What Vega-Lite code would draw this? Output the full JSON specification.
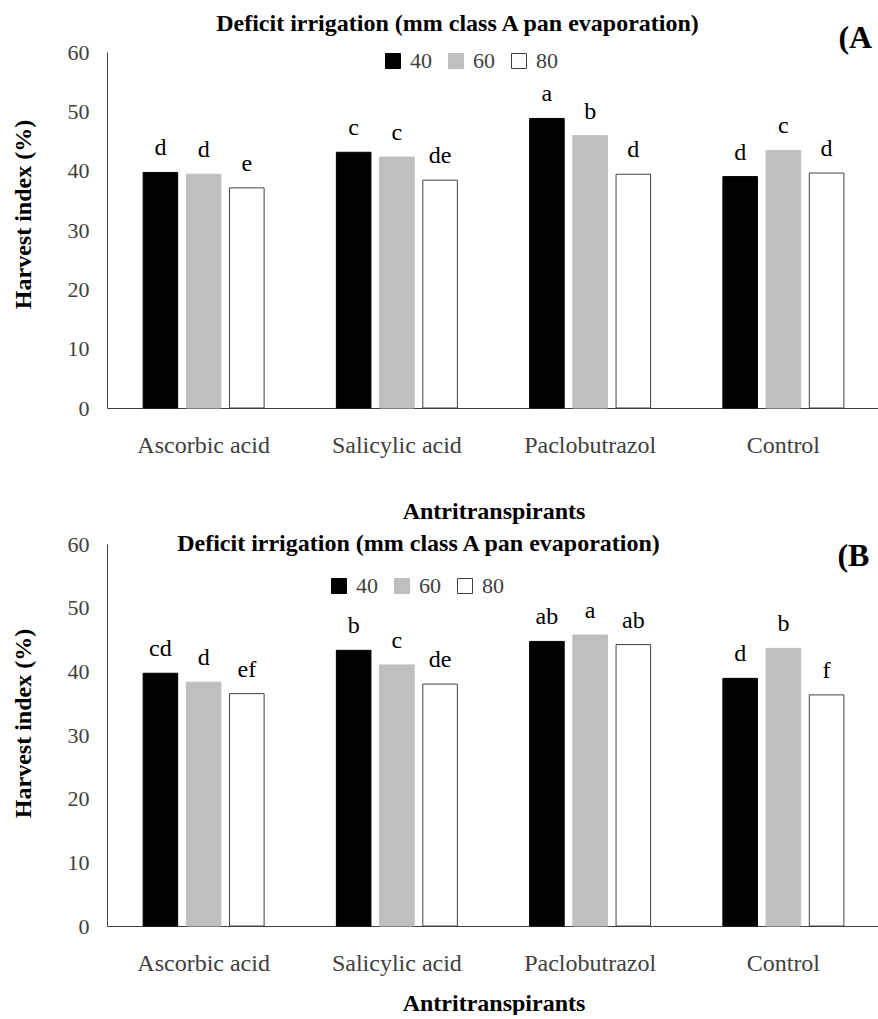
{
  "$schema": "https://vega.github.io/schema/vega-lite/v6.json",
  "padding": {"left": 11, "top": 12, "right": 0, "bottom": 0},
  "config": {
    "font": "Liberation Serif, Times New Roman, serif",
    "text": {"font": "Liberation Serif, Times New Roman, serif"},
    "title": {"font": "Liberation Serif, Times New Roman, serif"},
    "view": {"stroke": null},
    "axis": {"grid": false, "ticks": false, "domainColor": "#404040", "labelColor": "#404040", "labelFont": "Liberation Serif, Times New Roman, serif", "titleFont": "Liberation Serif, Times New Roman, serif", "titleFontWeight": "bold", "titleColor": "#000000"},
    "legend": {"labelFont": "Liberation Serif, Times New Roman, serif"}
  },
  "datasets": {
    "A": [
      {"treatment": "Ascorbic acid", "level": "40", "value": 39.7, "letter": "d"},
      {"treatment": "Ascorbic acid", "level": "60", "value": 39.4, "letter": "d"},
      {"treatment": "Ascorbic acid", "level": "80", "value": 37.1, "letter": "e"},
      {"treatment": "Salicylic acid", "level": "40", "value": 43.1, "letter": "c"},
      {"treatment": "Salicylic acid", "level": "60", "value": 42.3, "letter": "c"},
      {"treatment": "Salicylic acid", "level": "80", "value": 38.4, "letter": "de"},
      {"treatment": "Paclobutrazol", "level": "40", "value": 48.8, "letter": "a"},
      {"treatment": "Paclobutrazol", "level": "60", "value": 45.9, "letter": "b"},
      {"treatment": "Paclobutrazol", "level": "80", "value": 39.4, "letter": "d"},
      {"treatment": "Control", "level": "40", "value": 39.0, "letter": "d"},
      {"treatment": "Control", "level": "60", "value": 43.4, "letter": "c"},
      {"treatment": "Control", "level": "80", "value": 39.6, "letter": "d"}
    ],
    "B": [
      {"treatment": "Ascorbic acid", "level": "40", "value": 39.7, "letter": "cd"},
      {"treatment": "Ascorbic acid", "level": "60", "value": 38.3, "letter": "d"},
      {"treatment": "Ascorbic acid", "level": "80", "value": 36.5, "letter": "ef"},
      {"treatment": "Salicylic acid", "level": "40", "value": 43.3, "letter": "b"},
      {"treatment": "Salicylic acid", "level": "60", "value": 41.0, "letter": "c"},
      {"treatment": "Salicylic acid", "level": "80", "value": 38.0, "letter": "de"},
      {"treatment": "Paclobutrazol", "level": "40", "value": 44.7, "letter": "ab"},
      {"treatment": "Paclobutrazol", "level": "60", "value": 45.7, "letter": "a"},
      {"treatment": "Paclobutrazol", "level": "80", "value": 44.2, "letter": "ab"},
      {"treatment": "Control", "level": "40", "value": 38.9, "letter": "d"},
      {"treatment": "Control", "level": "60", "value": 43.6, "letter": "b"},
      {"treatment": "Control", "level": "80", "value": 36.3, "letter": "f"}
    ],
    "tagA": [{"tag": "(A"}],
    "tagB": [{"tag": "(B"}]
  },
  "resolve": {
    "scale": {"x": "independent", "y": "independent", "fill": "independent", "stroke": "independent", "xOffset": "independent"},
    "legend": {"fill": "independent", "stroke": "independent"}
  },
  "spacing": 9,
  "vconcat": [
    {
      "width": 773,
      "height": 356,
      "title": {"text": "Deficit irrigation (mm class A pan evaporation)", "fontSize": 24, "fontWeight": "bold", "color": "#000000", "anchor": "middle", "frame": "group", "dx": -36, "offset": -14},
      "layer": [
        {
          "data": {"name": "A"},
          "mark": {"type": "bar", "strokeWidth": 1},
          "encoding": {
            "x": {"field": "treatment", "type": "nominal", "sort": ["Ascorbic acid", "Salicylic acid", "Paclobutrazol", "Control"], "scale": {"paddingInner": 0.374, "paddingOuter": 0.187}, "axis": {"title": "Antritranspirants", "labelAngle": 0, "labelFontSize": 24, "labelPadding": 25, "titleFontSize": 24, "titlePadding": 42}},
            "y": {"field": "value", "type": "quantitative", "scale": {"domain": [0, 60]}, "axis": {"title": "Harvest index (%)", "values": [0, 10, 20, 30, 40, 50, 60], "labelFontSize": 22, "labelPadding": 18, "titleFontSize": 24, "titleX": -84, "titleY": 162, "titleBaseline": "middle", "titleAngle": -90, "titleAlign": "center"}},
            "xOffset": {"field": "level", "type": "nominal", "sort": ["40", "60", "80"], "scale": {"paddingInner": 0.2}},
            "fill": {"field": "level", "type": "nominal", "scale": {"domain": ["40", "60", "80"], "range": ["#000000", "#bfbfbf", "#ffffff"]}, "legend": {"orient": "none", "legendX": 275, "legendY": -2, "direction": "horizontal", "title": null, "symbolType": "square", "symbolSize": 225, "symbolStrokeWidth": 1, "labelFontSize": 22, "labelColor": "#404040", "labelOffset": 6, "columnPadding": 13}},
            "stroke": {"field": "level", "type": "nominal", "scale": {"domain": ["40", "60", "80"], "range": ["#000000", "#bfbfbf", "#404040"]}, "legend": {"orient": "none", "legendX": 275, "legendY": -2, "direction": "horizontal", "title": null, "symbolType": "square", "symbolSize": 225, "symbolStrokeWidth": 1, "labelFontSize": 22, "labelColor": "#404040", "labelOffset": 6, "columnPadding": 13}}
          }
        },
        {
          "data": {"name": "A"},
          "mark": {"type": "text", "baseline": "alphabetic", "dy": -17, "fontSize": 24, "color": "#000000"},
          "encoding": {
            "x": {"field": "treatment", "type": "nominal", "sort": ["Ascorbic acid", "Salicylic acid", "Paclobutrazol", "Control"]},
            "y": {"field": "value", "type": "quantitative"},
            "xOffset": {"field": "level", "type": "nominal", "sort": ["40", "60", "80"]},
            "text": {"field": "letter"}
          }
        },
        {
          "data": {"name": "tagA"},
          "mark": {"type": "text", "align": "left", "baseline": "middle", "dx": 55, "dy": -14, "fontSize": 32, "fontWeight": "bold", "color": "#000000"},
          "encoding": {
            "x": {"datum": "Control"},
            "y": {"datum": 60},
            "text": {"field": "tag"}
          }
        }
      ]
    },
    {
      "width": 773,
      "height": 382,
      "title": {"text": "Deficit irrigation (mm class A pan evaporation)", "fontSize": 24, "fontWeight": "bold", "color": "#000000", "anchor": "middle", "frame": "group", "dx": -75, "offset": -23},
      "layer": [
        {
          "data": {"name": "B"},
          "mark": {"type": "bar", "strokeWidth": 1},
          "encoding": {
            "x": {"field": "treatment", "type": "nominal", "sort": ["Ascorbic acid", "Salicylic acid", "Paclobutrazol", "Control"], "scale": {"paddingInner": 0.374, "paddingOuter": 0.187}, "axis": {"title": "Antritranspirants", "labelAngle": 0, "labelFontSize": 24, "labelPadding": 25, "titleFontSize": 24, "titlePadding": 16}},
            "y": {"field": "value", "type": "quantitative", "scale": {"domain": [0, 60]}, "axis": {"title": "Harvest index (%)", "values": [0, 10, 20, 30, 40, 50, 60], "labelFontSize": 22, "labelPadding": 18, "titleFontSize": 24, "titleX": -84, "titleY": 179, "titleBaseline": "middle", "titleAngle": -90, "titleAlign": "center"}},
            "xOffset": {"field": "level", "type": "nominal", "sort": ["40", "60", "80"], "scale": {"paddingInner": 0.2}},
            "fill": {"field": "level", "type": "nominal", "scale": {"domain": ["40", "60", "80"], "range": ["#000000", "#bfbfbf", "#ffffff"]}, "legend": {"orient": "none", "legendX": 221, "legendY": 31, "direction": "horizontal", "title": null, "symbolType": "square", "symbolSize": 225, "symbolStrokeWidth": 1, "labelFontSize": 22, "labelColor": "#404040", "labelOffset": 6, "columnPadding": 13}},
            "stroke": {"field": "level", "type": "nominal", "scale": {"domain": ["40", "60", "80"], "range": ["#000000", "#bfbfbf", "#404040"]}, "legend": {"orient": "none", "legendX": 221, "legendY": 31, "direction": "horizontal", "title": null, "symbolType": "square", "symbolSize": 225, "symbolStrokeWidth": 1, "labelFontSize": 22, "labelColor": "#404040", "labelOffset": 6, "columnPadding": 13}}
          }
        },
        {
          "data": {"name": "B"},
          "mark": {"type": "text", "baseline": "alphabetic", "dy": -17, "fontSize": 24, "color": "#000000"},
          "encoding": {
            "x": {"field": "treatment", "type": "nominal", "sort": ["Ascorbic acid", "Salicylic acid", "Paclobutrazol", "Control"]},
            "y": {"field": "value", "type": "quantitative"},
            "xOffset": {"field": "level", "type": "nominal", "sort": ["40", "60", "80"]},
            "text": {"field": "letter"}
          }
        },
        {
          "data": {"name": "tagB"},
          "mark": {"type": "text", "align": "left", "baseline": "middle", "dx": 54, "dy": 12, "fontSize": 32, "fontWeight": "bold", "color": "#000000"},
          "encoding": {
            "x": {"datum": "Control"},
            "y": {"datum": 60},
            "text": {"field": "tag"}
          }
        }
      ]
    }
  ]
}
